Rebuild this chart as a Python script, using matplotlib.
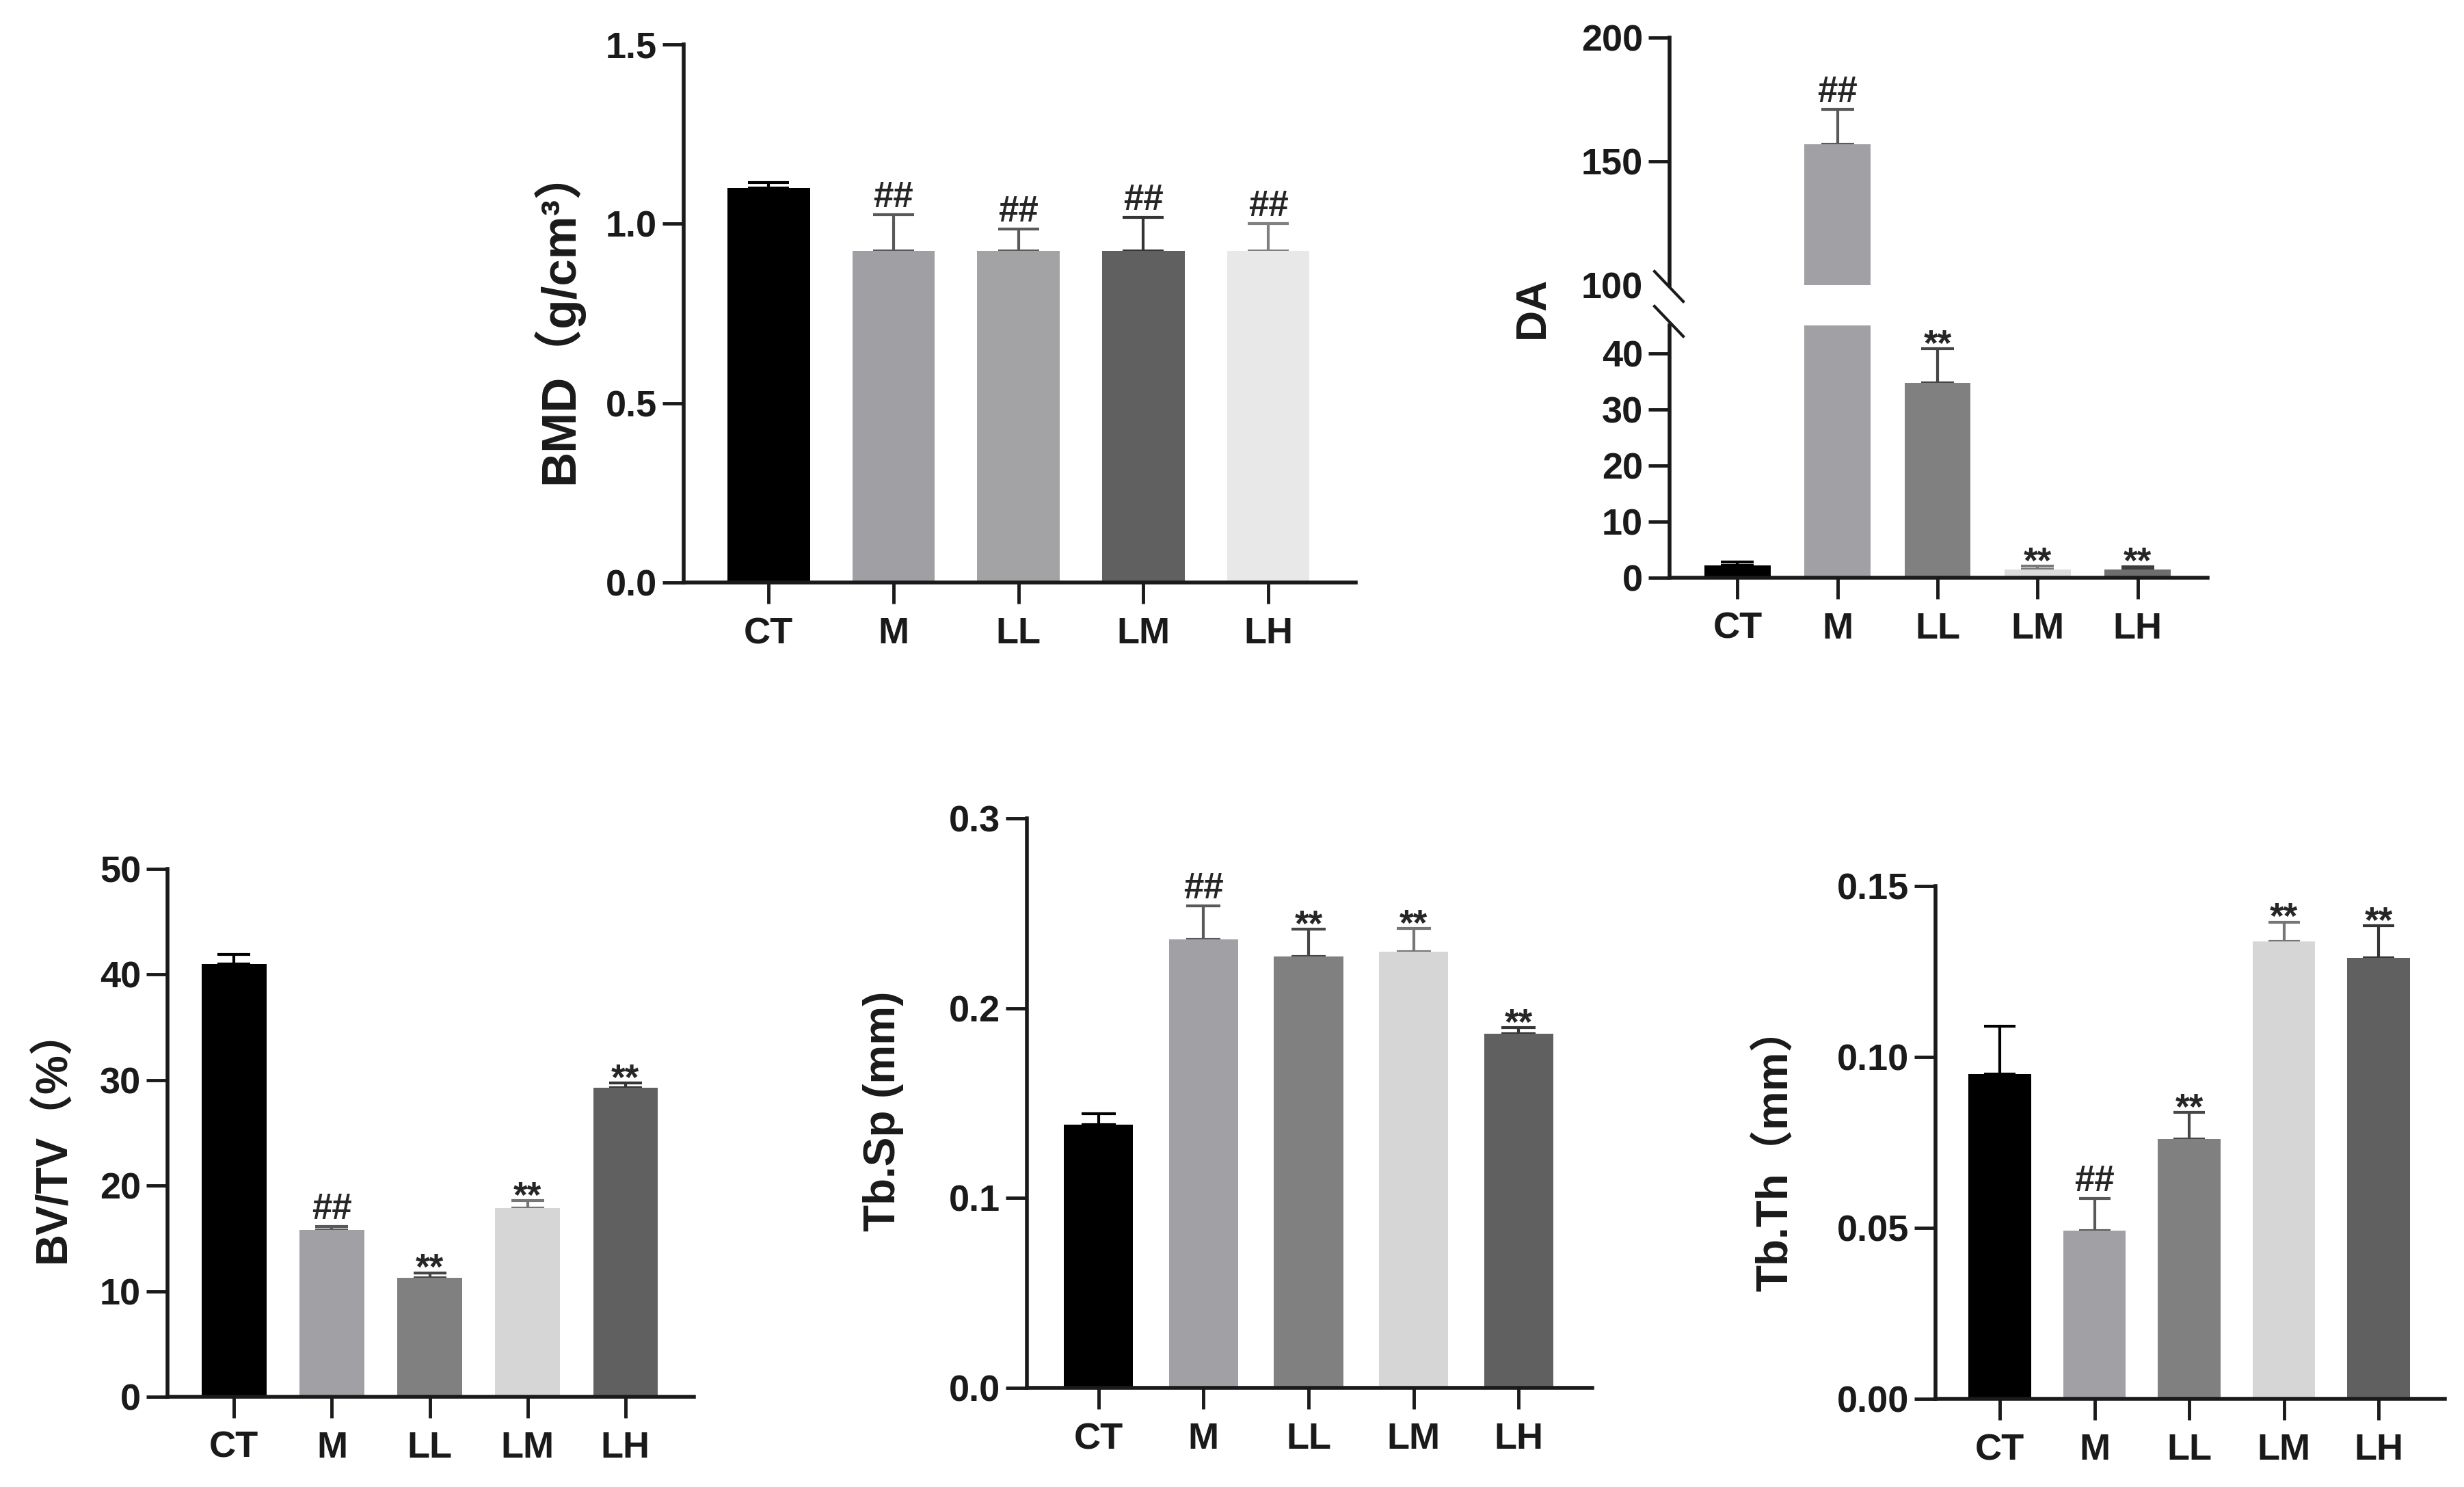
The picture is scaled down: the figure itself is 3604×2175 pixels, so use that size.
import matplotlib
matplotlib.use("Agg")
import matplotlib.pyplot as plt
from matplotlib.lines import Line2D
import numpy as np

plt.rcParams['font.family'] = ['Liberation Sans', 'Noto Sans CJK SC', 'DejaVu Sans']
plt.rcParams['font.weight'] = 'bold'

groups = ['CT', 'M', 'LL', 'LM', 'LH']

bmd_mean = [1.10, 0.925, 0.925, 0.925, 0.925]
bmd_sd = [0.015, 0.10, 0.06, 0.093, 0.075]
bmd_sig = ['', '##', '##', '##', '##']
bmd_colors = ['#000000', '#a0a0a4', '#a3a3a6', '#606060', '#e8e8e8']

da_mean = [2.2, 157, 34.7, 1.5, 1.5]
da_sd = [0.6, 14, 6.1, 0.6, 0.5]
da_sig = ['', '##', '**', '**', '**']
da_colors = ['#000000', '#a1a1a5', '#808080', '#dcdcdc', '#6e6e6e']

bvtv_mean = [41.0, 15.8, 11.3, 17.9, 29.3]
bvtv_sd = [0.9, 0.3, 0.45, 0.7, 0.4]
bvtv_sig = ['', '##', '**', '**', '**']

tbsp_mean = [0.1385, 0.2363, 0.2271, 0.2296, 0.1867]
tbsp_sd = [0.0058, 0.0175, 0.0145, 0.0125, 0.003]
tbsp_sig = ['', '##', '**', '**', '**']

tbth_mean = [0.095, 0.0493, 0.0761, 0.1338, 0.129]
tbth_sd = [0.014, 0.0093, 0.0077, 0.0057, 0.0094]
tbth_sig = ['', '##', '**', '**', '**']

low_colors = ['#000000', '#a1a1a5', '#808080', '#d6d6d6', '#606060']

W, H = 3605, 2175
fig = plt.figure(figsize=(W / 100, H / 100), dpi=100, facecolor='white')

BAR_W = 0.66
XLIM = (-0.68, 4.7)
AX_COLOR = '#1a1a1a'
SIG_SIZE = 38


def px_axes(x0, x1, ytop, ybot):
    return fig.add_axes([x0 / W, 1 - ybot / H, (x1 - x0) / W, (ybot - ytop) / H])


def style(ax, bottom=True):
    for s in ['top', 'right']:
        ax.spines[s].set_visible(False)
    ax.spines['left'].set_linewidth(4)
    ax.spines['left'].set_color(AX_COLOR)
    ax.spines['bottom'].set_linewidth(4)
    ax.spines['bottom'].set_color(AX_COLOR)
    if not bottom:
        ax.spines['bottom'].set_visible(False)
        ax.tick_params(axis='x', bottom=False, labelbottom=False)
    ax.tick_params(axis='y', length=22, width=3.5, labelsize=39, pad=6, colors=AX_COLOR)
    ax.tick_params(axis='x', length=22, width=3.5, labelsize=39, pad=14, colors=AX_COLOR)
    ax.set_xlim(*XLIM)


def put_sig(ax, xi, top, sig):
    off = 8 if sig == '##' else -7
    ax.annotate(sig, (xi, top), xytext=(0, off), textcoords='offset points',
                ha='center', va='baseline', fontsize=SIG_SIZE, fontweight='bold',
                color='#262626', annotation_clip=False)


def draw_bars(ax, mean, sd, colors, sig):
    x = np.arange(len(groups))
    ax.bar(x, mean, width=BAR_W, color=colors, zorder=2)
    span_px = ax.get_position().width * W / (XLIM[1] - XLIM[0])
    cap = span_px * BAR_W / 4 * 0.72
    for i in range(len(groups)):
        rgb = np.array(matplotlib.colors.to_rgb(colors[i])) * 0.55
        ax.errorbar(x[i], mean[i], yerr=[[0], [sd[i]]], fmt='none', ecolor=rgb,
                    elinewidth=3, capsize=cap, capthick=3, zorder=1)
        if sig[i]:
            put_sig(ax, x[i], mean[i] + sd[i], sig[i])
    ax.set_xticks(x)
    ax.set_xticklabels(groups)


def ylabel_px(text, xc, yc, size):
    fig.text(xc / W, 1 - yc / H, text, rotation=90, ha='center', va='center',
             fontsize=size, color=AX_COLOR)


# BMD
ax = px_axes(1000, 1983, 65, 852)
style(ax)
draw_bars(ax, bmd_mean, bmd_sd, bmd_colors, bmd_sig)
ax.set_ylim(0, 1.5)
ax.set_yticks([0, 0.5, 1.0, 1.5])
ax.set_yticklabels(['0.0', '0.5', '1.0', '1.5'])
ylabel_px('BMD（g/cm³）', 815, 462, 51)

# DA, broken axis
ax_up = px_axes(2442, 3229, 55, 417)
ax_lo = px_axes(2442, 3229, 476, 845)
for a in (ax_up, ax_lo):
    style(a, bottom=(a is ax_lo))
    draw_bars(a, da_mean, da_sd, da_colors, ['', '', '', '', ''])
ax_up.set_ylim(100, 200)
ax_up.set_yticks([100, 150, 200])
ax_up.yaxis.get_major_ticks()[0].tick1line.set_visible(False)
ax_lo.set_ylim(0, 45)
ax_lo.set_yticks([0, 10, 20, 30, 40])
x = np.arange(len(groups))
for i in range(len(groups)):
    if da_sig[i]:
        target = ax_up if da_mean[i] > 45 else ax_lo
        put_sig(target, x[i], da_mean[i] + da_sd[i], da_sig[i])
# break marks
for yc in (419, 470):
    fig.add_artist(Line2D([2420 / W, 2462 / W], [1 - (yc - 22) / H, 1 - (yc + 22) / H],
                          transform=fig.transFigure, color=AX_COLOR, linewidth=3))
ylabel_px('DA', 2241, 450, 45)

# BV/TV
ax = px_axes(245, 1015, 1271, 2043)
style(ax)
draw_bars(ax, bvtv_mean, bvtv_sd, low_colors, bvtv_sig)
ax.set_ylim(0, 50)
ax.set_yticks([0, 10, 20, 30, 40, 50])
ylabel_px('BV/TV（%）', 78, 1661, 46)

# Tb.Sp
ax = px_axes(1502, 2329, 1197, 2030)
style(ax)
draw_bars(ax, tbsp_mean, tbsp_sd, low_colors, tbsp_sig)
ax.set_ylim(0, 0.3)
ax.set_yticks([0, 0.1, 0.2, 0.3])
ax.set_yticklabels(['0.0', '0.1', '0.2', '0.3'])
ylabel_px('Tb.Sp (mm)', 1292, 1625, 46)

# Tb.Th
ax = px_axes(2831, 3576, 1296, 2046)
style(ax)
draw_bars(ax, tbth_mean, tbth_sd, low_colors, tbth_sig)
ax.set_ylim(0, 0.15)
ax.set_yticks([0, 0.05, 0.10, 0.15])
ax.set_yticklabels(['0.00', '0.05', '0.10', '0.15'])
ylabel_px('Tb.Th（mm）', 2597, 1681, 46)

fig.savefig('out.png', dpi=100, facecolor='white')
